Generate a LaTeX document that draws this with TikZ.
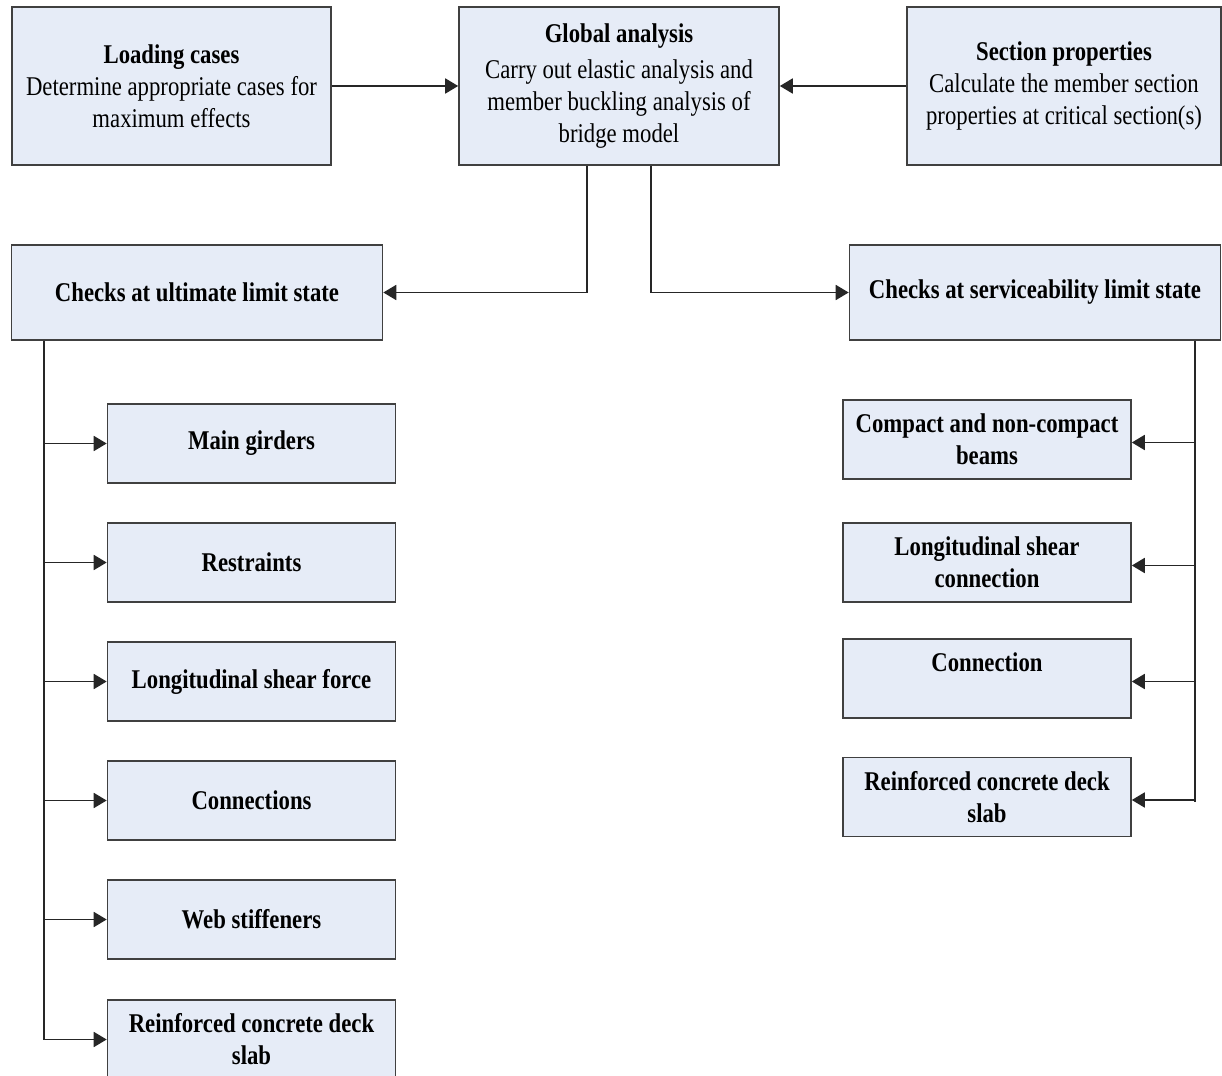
\documentclass[tikz,border=0pt]{standalone}
\usepackage{fontspec}
\setmainfont{Liberation Serif}[FakeStretch=0.84]
\usetikzlibrary{arrows.meta, positioning}
\definecolor{boxblue}{RGB}{230,236,247}
\definecolor{edgegray}{RGB}{64,64,64}

\begin{document}
\begin{tikzpicture}[x=0.1mm, y=-0.1mm,
        every node/.style={font=\fontsize{7.7}{9.1}\selectfont},
        box/.style={rectangle, draw=edgegray, fill=boxblue, line width=0.45pt, align=center, inner sep=0pt},
        topbox/.style={box, minimum height=15.8mm},
        limitbox/.style={box, font=\fontsize{7.7}{9.1}\selectfont\bfseries, minimum width=37.1mm, minimum height=9.5mm},
        itembox/.style={box, font=\fontsize{7.7}{9.1}\selectfont\bfseries, minimum width=28.8mm, minimum height=7.9mm},
        link/.style={line width=0.5pt, black!85},
        arrow/.style={link, -{Triangle[length=1.3mm, width=1.5mm]}}
    ]
        \useasboundingbox (0,0) rectangle (1222,1076);

        % Top row
        \node[topbox, minimum width=31.9mm] (load) at (171.5,86) {\textbf{Loading cases}\\Determine appropriate cases for\\maximum effects};
        \node[topbox, minimum width=32mm] (glob) at (619,86) {\textbf{Global analysis}\\[0.4mm]Carry out elastic analysis and\\member buckling analysis of\\bridge model};
        \node[topbox, minimum width=31.4mm] (sect) at (1064,86) {\textbf{Section properties}\\Calculate the member section\\properties at critical section(s)};

        \draw[arrow] (load) -- (glob);
        \draw[arrow] (sect) -- (glob);

        % Limit states
        \node[limitbox] (uls) at (197,292.5) {Checks at ultimate limit state};
        \node[limitbox] (sls) at (1035,292.5) {\strut Checks at serviceability limit state};

        \draw[arrow] ([xshift=-3.2mm]glob.south) |- (uls);
        \draw[arrow] ([xshift=3.2mm]glob.south) |- (sls);

        % Ultimate checks
        \coordinate (lbar) at (44,0);
        \foreach \nm/\yy/\txt in {mg/443.5/Main girders, rs/562.5/Restraints, lsf/681.5/Longitudinal shear force, cn/800.5/Connections, ws/919.5/Web stiffeners, rcl/1039.5/{Reinforced concrete deck\\slab}} {
            \node[itembox] (\nm) at (251.5,\yy) {\txt};
            \draw[arrow] (lbar |- \nm.west) -- (\nm.west);
        }
        \draw[link] (uls.south -| lbar) -- (lbar |- rcl.west);

        % Serviceability checks
        \coordinate (rbar) at (1195,0);
        \foreach \nm/\yy/\txt in {cb/439.5/{Compact and non-compact\\beams}, lsc/562.5/{Longitudinal shear\\connection}, con/678.5/{Connection\\~}, rcr/797/{Reinforced concrete deck\\slab}} {
            \node[itembox] (\nm) at (987,\yy) {\txt};
            \draw[arrow] ([yshift=-0.3mm]rbar |- \nm.east) -- ([yshift=-0.3mm]\nm.east);
        }
        \draw[link] (sls.south -| rbar) -- ([yshift=-0.5mm]rbar |- rcr.east);

    \end{tikzpicture}
\end{document}
